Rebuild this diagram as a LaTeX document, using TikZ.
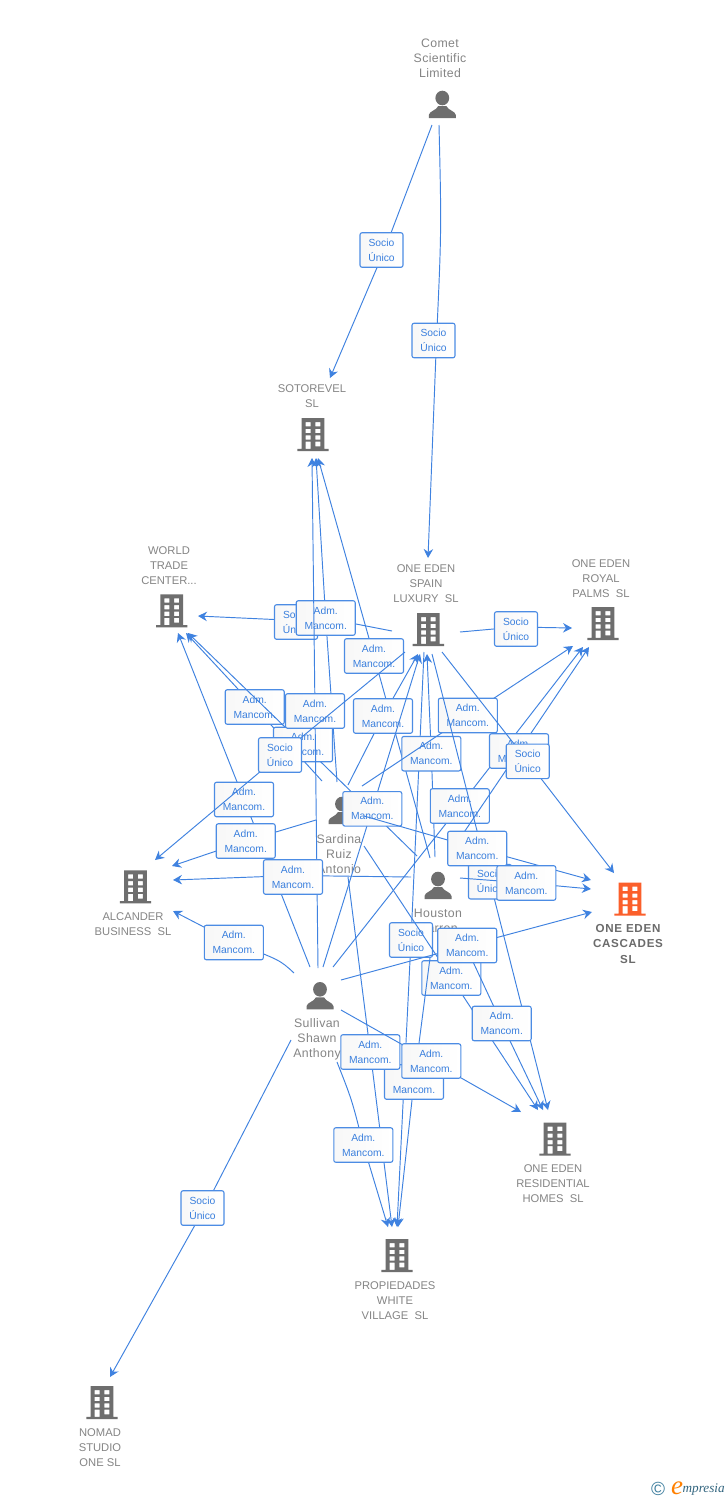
\documentclass[tikz,border=0pt]{standalone}
\usepackage{fontspec}
\setmainfont{Liberation Sans}
\newfontfamily\brandfont{Liberation Serif}
\newfontfamily\hotfont[LetterSpace=6]{Liberation Sans}
\newfontfamily\humanfont[LetterSpace=3]{Liberation Sans}
\usetikzlibrary{arrows.meta}
\definecolor{linkblue}{HTML}{3F82E0}
\definecolor{boxblue}{HTML}{4C8CE4}
\definecolor{textblue}{HTML}{3A7FDD}
\definecolor{icongrey}{HTML}{6E6E6E}
\definecolor{namegrey}{HTML}{858585}
\definecolor{hot}{HTML}{FB5F2B}
\definecolor{teal1}{HTML}{3F7F9F}
\newcommand\amtxt{Adm.\\Mancom.}
\newcommand\sutxt{Socio\\Único}
\tikzset{
  x=1pt,y=-1pt,
  link/.style={draw=linkblue,line width=0.95pt,-{Stealth[length=9pt,width=9.5pt,inset=3pt]}},
  tagbox/.style={draw=boxblue,line width=1.1pt,rounded corners=2pt,left color=black!3,right color=white,
    inner sep=0pt,minimum height=34.5pt,align=center,text=textblue,font=\fontsize{10.3}{15}\selectfont},
  am/.style={tagbox,minimum width=59pt},
  su/.style={tagbox,minimum width=43pt},
  nametxt/.style={text=namegrey,align=center,inner sep=0pt,font=\fontsize{11.2}{15}\selectfont},
  humantxt/.style={nametxt,font=\humanfont\fontsize{12.3}{15}\selectfont},
  hotname/.style={nametxt,text=black!58,font=\hotfont\fontsize{11.6}{15.5}\bfseries},
  building/.pic={
    \fill[pic actions,even odd rule]
      (-15.7,0) rectangle (15.7,-2.2)
      (-11.3,-2) rectangle (11.3,-33)
      (-7.3,-29) rectangle (-2.3,-24.6) (2.3,-29) rectangle (7.3,-24.6)
      (-7.3,-22.2) rectangle (-2.3,-18) (2.3,-22.2) rectangle (7.3,-18)
      (-7.3,-15.7) rectangle (-2.3,-11.3) (2.3,-15.7) rectangle (7.3,-11.3)
      (-7.3,-9.5) rectangle (-2.3,-2.2) (2.3,-9.5) rectangle (7.3,-4.7);
  },
  person/.pic={
    \fill[pic actions] (0,-20) ellipse[x radius=6.9,y radius=7.3];
    \fill[pic actions] (-13.5,0) -- (-13.5,-3) .. controls (-13,-7) and (-6,-7.5) .. (-4,-12)
      -- (4,-12) .. controls (6,-7.5) and (13,-7) .. (13.5,-3) -- (13.5,0) -- cycle;
  },
}
\begin{document}
\begin{tikzpicture}
\useasboundingbox[fill=white] (0,0) rectangle (728,1500);
% icons
\pic[fill=icongrey] at (442.3,118) {person};
\pic[fill=icongrey] at (342,824) {person};
\pic[fill=icongrey] at (438,899) {person};
\pic[fill=icongrey] at (320,1009.3) {person};
\pic[fill=icongrey] at (313,451) {building};
\pic[fill=icongrey] at (171.7,627.3) {building};
\pic[fill=icongrey] at (428.3,646) {building};
\pic[fill=icongrey] at (603,640) {building};
\pic[fill=icongrey] at (135.5,903.3) {building};
\pic[fill=hot] at (630,915.7) {building};
\pic[fill=icongrey] at (555,1155.7) {building};
\pic[fill=icongrey] at (397,1272) {building};
\pic[fill=icongrey] at (102,1419) {building};
% names
\node[humantxt] (comet) at (440,58) {Comet\\Scientific\\Limited};
\node[nametxt] (sotorevel) at (312,396.5) {SOTOREVEL\\SL};
\node[nametxt] (world) at (169,566) {WORLD\\TRADE\\CENTER...};
\node[nametxt] (spain) at (426,584) {ONE EDEN\\SPAIN\\LUXURY\ \ SL};
\node[nametxt] (royal) at (601,579) {ONE EDEN\\ROYAL\\PALMS\ \ SL};
\node[nametxt] (alcander) at (133,924.5) {ALCANDER\\BUSINESS\ \ SL};
\node[hotname] (cascades) at (628,943.5) {ONE EDEN\\CASCADES\\SL};
\node[humantxt] (sardina) at (339,854) {Sardina\\Ruiz\\Antonio};
\node[humantxt] (houston) at (438,920.5) {Houston\\Darren};
\node[humantxt] (sullivan) at (317,1039) {Sullivan\\Shawn\\Anthony};
\node[nametxt] (residential) at (553,1184) {ONE EDEN\\RESIDENTIAL\\HOMES\ \ SL};
\node[nametxt] (propiedades) at (395,1301) {PROPIEDADES\\WHITE\\VILLAGE\ \ SL};
\node[nametxt] (nomad) at (100,1448) {NOMAD\\STUDIO\\ONE SL};
% connector ends
\coordinate (cometA) at (432,125); \coordinate (cometB) at (439,125);
\coordinate (sotoA) at (330,378); \coordinate (sotoB) at (316,458); \coordinate (sotoC) at (318,458); \coordinate (sotoD) at (312,458);
\coordinate (spainTop) at (428,558);
\coordinate (spainW) at (392,631); \coordinate (spainE) at (460,632); \coordinate (spainSW) at (405,652);
\coordinate (spainSE) at (442,652); \coordinate (spainSa) at (432,654); \coordinate (spainSb) at (424,652);
\coordinate (spainInA) at (418,654); \coordinate (spainInB) at (420,654); \coordinate (spainInC) at (427,654);
\coordinate (worldE) at (198,616); \coordinate (worldA) at (186,633); \coordinate (worldB) at (188,633); \coordinate (worldC) at (178,633);
\coordinate (alcA) at (155,860); \coordinate (alcB) at (172,866); \coordinate (alcC) at (173,880); \coordinate (alcD) at (173,911);
\coordinate (royalW) at (572,628); \coordinate (royalA) at (573,646); \coordinate (royalB) at (583,647); \coordinate (royalC) at (589,647);
\coordinate (cascA) at (614,873); \coordinate (cascB) at (591,880); \coordinate (cascC) at (591,889); \coordinate (cascD) at (592,912);
\coordinate (resA) at (548,1110); \coordinate (resB) at (538,1110); \coordinate (resC) at (543,1110); \coordinate (resD) at (521,1112);
\coordinate (propA) at (397,1227); \coordinate (propB) at (398,1227); \coordinate (propC) at (392,1227); \coordinate (propD) at (388,1227);
\coordinate (nomadIn) at (110,1377);
\coordinate (sarA) at (337,782); \coordinate (sarB) at (322,781); \coordinate (sarC) at (316,820); \coordinate (sarD) at (348,785);
\coordinate (sarE) at (362,786); \coordinate (sarF) at (364,816); \coordinate (sarG) at (364,846); \coordinate (sarH) at (348,877);
\coordinate (houA) at (430,858); \coordinate (houB) at (417,856); \coordinate (houC) at (411,877); \coordinate (houD) at (435,857);
\coordinate (houE) at (450,853); \coordinate (houF) at (460,878); \coordinate (houG) at (461,936); \coordinate (houH) at (430,958);
\coordinate (sulA) at (318,968); \coordinate (sulB) at (310,967); \coordinate (sulC) at (294,973); \coordinate (sulD) at (323,967);
\coordinate (sulE) at (333,967); \coordinate (sulF) at (341,980); \coordinate (sulG) at (341,1010); \coordinate (sulH) at (337,1062); \coordinate (sulI) at (291,1040);
% connectors, each with its tag, in stacking order
\draw[link] (cometA) -- (384.5,250) node[su] (t1) at (381.5,250) {\sutxt} -- (sotoA);
\draw[link] (cometB) .. controls (441.5,230) .. (436.5,340) node[su] (t2) at (433.5,340.5) {\sutxt} -- (spainTop);
\draw[link] (spainW) -- (356,624) -- (296,620.5) node[su] (t3) at (296,622) {\sutxt} -- (worldE);
\draw[link] (sarA) -- (325.7,618) node[am] (t4) {\amtxt} -- (sotoB);
\draw[link] (houA) -- (374,656) node[am] (t5) {\amtxt} -- (sotoC);
\draw[link] (sarB) -- (254.7,707) node[am] (t6) {\amtxt} -- (worldA);
\draw[link] (houB) -- (303,744.5) node[am] (t7) {\amtxt} -- (worldB);
\draw[link] (sulA) -- (315,711) node[am] (t8) {\amtxt} -- (sotoD);
\draw[link] (sulB) -- (244,799.5) node[am] (t9) {\amtxt} -- (worldC);
\draw[link] (spainSW) -- (280,755) node[su] (t10) {\sutxt} -- (alcA);
\draw[link] (sarC) -- (245.7,841) node[am] (t11) {\amtxt} -- (alcB);
\draw[link] (houC) -- (293,875.5) node[am] (t12) at (293,877) {\amtxt} -- (alcC);
\draw[link] (sulC) .. controls (280,960) .. (233.8,942.5) node[am] (t13) {\amtxt} -- (alcD);
\draw[link] (sarD) -- (383,716) node[am] (t14) {\amtxt} -- (spainInA);
\draw[link] (sulD) -- (372.3,808.8) node[am] (t15) {\amtxt} -- (spainInB);
\draw[link] (spainSb) -- (411,940) node[su] (t16) {\sutxt} -- (propA);
\draw[link] (houD) -- (431.3,753.7) node[am] (t17) {\amtxt} -- (spainInC);
\draw[link] (spainE) -- (516,627) node[su] (t18) at (516,629) {\sutxt} -- (royalW);
\draw[link] (sarE) -- (467.8,715.5) node[am] (t19) {\amtxt} -- (royalA);
\draw[link] (sulE) -- (459.8,806) node[am] (t20) {\amtxt} -- (royalB);
\draw[link] (houE) -- (519,751) node[am] (t21) {\amtxt} -- (royalC);
\draw[link] (spainSE) -- (527.7,761.3) node[su] (t22) {\sutxt} -- (cascA);
\draw[link] (spainSa) -- (490,881.7) node[su] (t23) {\sutxt} -- (resA);
\draw[link] (sarF) -- (477.2,848.5) node[am] (t24) {\amtxt} -- (cascB);
\draw[link] (houF) -- (526.3,883) node[am] (t25) {\amtxt} -- (cascC);
\draw[link] (sarG) -- (451.3,978) node[am] (t26) {\amtxt} -- (resB);
\draw[link] (houG) -- (501.7,1023.5) node[am] (t27) {\amtxt} -- (resC);
\draw[link] (sulF) -- (467.2,945.5) node[am] (t28) {\amtxt} -- (cascD);
\draw[link] (houH) -- (414,1082) node[am] (t29) {\amtxt} -- (propB);
\draw[link] (sarH) -- (370.3,1052) node[am] (t30) {\amtxt} -- (propC);
\draw[link] (sulG) -- (431.3,1061) node[am] (t31) {\amtxt} -- (resD);
\draw[link] (sulH) .. controls (352,1100) .. (363.3,1145) node[am] (t32) {\amtxt} -- (propD);
\draw[link] (sulI) -- (204.5,1208) node[su] (t33) at (202.5,1208) {\sutxt} -- (nomadIn);
% footer
\node[text=teal1,inner sep=0pt,font=\fontsize{19}{19}\selectfont] (copy) at (658,1488.5) {©};
\node[text=orange,inner sep=0pt,font=\brandfont\fontsize{27}{27}\itshape] (emark) at (677,1488) {e};
\node[text=teal1!80!black,anchor=west,inner sep=0pt,font=\brandfont\fontsize{13.2}{13}\itshape] (brand) at (682.5,1490) {mpresia};
\end{tikzpicture}
\end{document}
